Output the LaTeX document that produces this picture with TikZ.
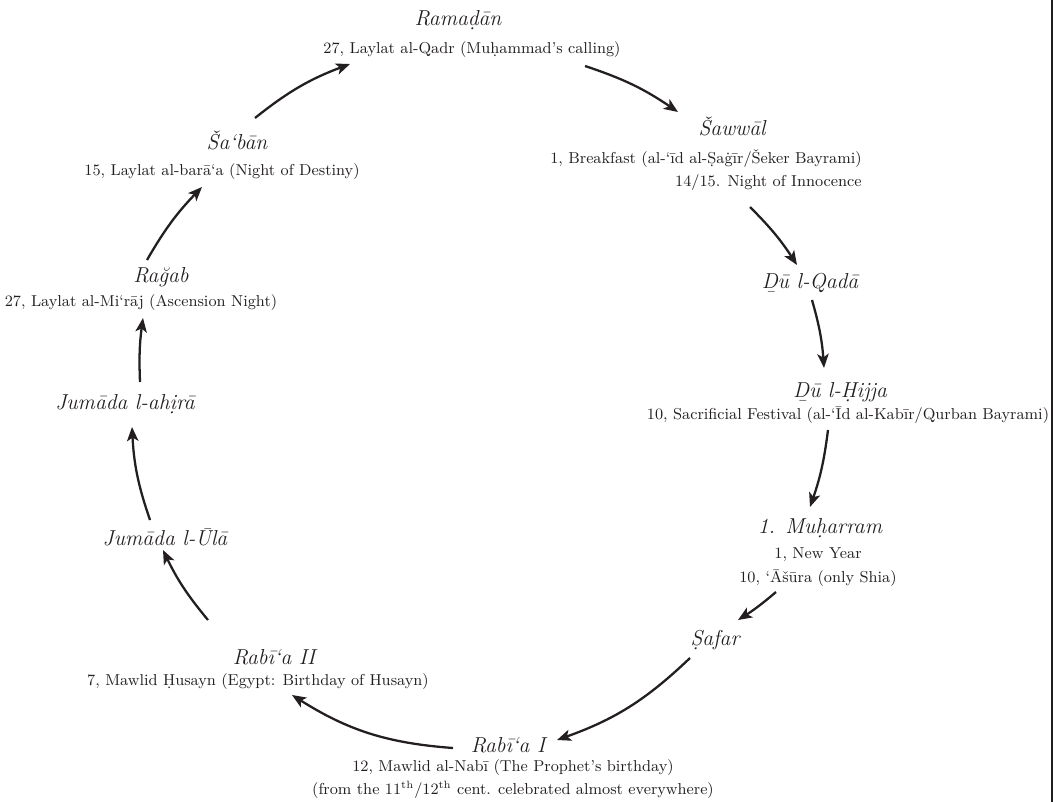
\documentclass[tikz,border=0pt]{standalone}
\usepackage{tikz}
\usetikzlibrary{arrows.meta}
\definecolor{ink}{RGB}{35,31,32}
\tikzset{month/.style={font=\itshape\fontsize{12.3}{14}\selectfont,inner sep=0pt,text=ink},
 feast/.style={font=\fontsize{9}{13.5}\selectfont,inner sep=0pt,text=ink},
 cyc/.style={-{Stealth[length=8pt,width=6.5pt,inset=2pt]},line width=1.3pt,ink}}

\begin{document}
\begin{tikzpicture}[x=0.02cm,y=0.02cm]
\useasboundingbox (0,0) rectangle (1063,-802);
\node[month] (ram) at (458,-20) {Rama\d{d}\=an};
\node[feast] (ramF) at (472,-50) {27, Laylat al-Qadr (Mu\d{h}ammad's calling)};
\node[month] (saw) at (732,-126) {\v{S}aww\=al};
\node[feast,align=right] (sawF) at (706,-170) {1, Breakfast (al-`\={\i}d al-\d{S}a\.{g}\={\i}r/\v{S}eker Bayrami)\\14/15. Night of Innocence};
\node[month] (qad) at (810,-283) {\b{D}\=u l-Qad\=a};
\node[month] (hij) at (840,-392) {\b{D}\=u l-\d{H}ijja};
\node[feast] (hijF) at (848,-415) {10, Sacrificial Festival (al-`\=Id al-Kab\={\i}r/Qurban Bayrami)};
\node[month] (muh) at (820,-528) {1. Mu\d{h}arram};
\node[feast,align=center] (muhF) at (818,-567) {1, New Year\\10, `\=A\v{s}\=ura (only Shia)};
\node[month] (saf) at (715,-640) {\d{S}afar};
\node[month] (rab1) at (508,-745) {Rab\={\i}`a I};
\node[feast,align=center] (rab1F) at (513,-779) {12, Mawlid al-Nab\={\i} (The Prophet's birthday)\\(from the 11\textsuperscript{th}/12\textsuperscript{th} cent. celebrated almost everywhere)};
\node[month] (rab2) at (274,-657) {Rab\={\i}`a II};
\node[feast] (rab2F) at (258,-682) {7, Mawlid \d{H}usayn (Egypt: Birthday of Husayn)};
\node[month] (jum1) at (165,-537) {Jum\=ada l-\=Ul\=a};
\node[month] (jum2) at (125,-404) {Jum\=ada l-ah\d{i}r\=a};
\node[month] (raj) at (161,-277) {Ra\u{g}ab};
\node[feast] (rajF) at (141,-303) {27, Laylat al-Mi`r\=aj (Ascension Night)};
\node[month] (sab) at (237,-140) {\v{S}a`b\=an};
\node[feast] (sabF) at (222,-172) {15, Laylat al-bar\=a`a (Night of Destiny)};

\draw[cyc] ([shift={(113,-16)}]ramF.center) to[bend left=8] ([shift={(-54,14)}]saw.center);
\draw[cyc] ([shift={(44,-37)}]sawF.center) to[bend left=6] ([shift={(-13,18)}]qad.center);
\draw[cyc] ([shift={(2,-17)}]qad.center) to[bend left=6] ([shift={(-16,24)}]hij.center);
\draw[cyc] ([shift={(-20,-15)}]hijF.center) to[bend left=6] ([shift={(-10,21)}]muh.center);
\draw[cyc] ([shift={(-42,-25)}]muhF.center) to[bend left=4] ([shift={(23,20)}]saf.center);
\draw[cyc] ([shift={(-25,-18)}]saf.center) to[bend left=12] ([shift={(49,5)}]rab1.center);
\draw[cyc] ([shift={(-55,-3)}]rab1.center) to[bend left=14] ([shift={(34,-13)}]rab2F.center);
\draw[cyc] ([shift={(-66,37)}]rab2.center) to[bend left=7] ([shift={(-2,-13)}]jum1.center);
\draw[cyc] ([shift={(-15,17)}]jum1.center) to[bend left=8] ([shift={(7,-23)}]jum2.center);
\draw[cyc] ([shift={(15,22)}]jum2.center) to[bend left=5] ([shift={(2,-15)}]rajF.center);
\draw[cyc] ([shift={(-14,17)}]raj.center) to[bend left=7] ([shift={(-20,-15)}]sabF.center);
\draw[cyc] ([shift={(18,22)}]sab.center) to[bend left=9] ([shift={(-122,-14)}]ramF.center);
\draw[line width=0.9pt,ink] (1052,0) -- (1052,-802);
\end{tikzpicture}
\end{document}
